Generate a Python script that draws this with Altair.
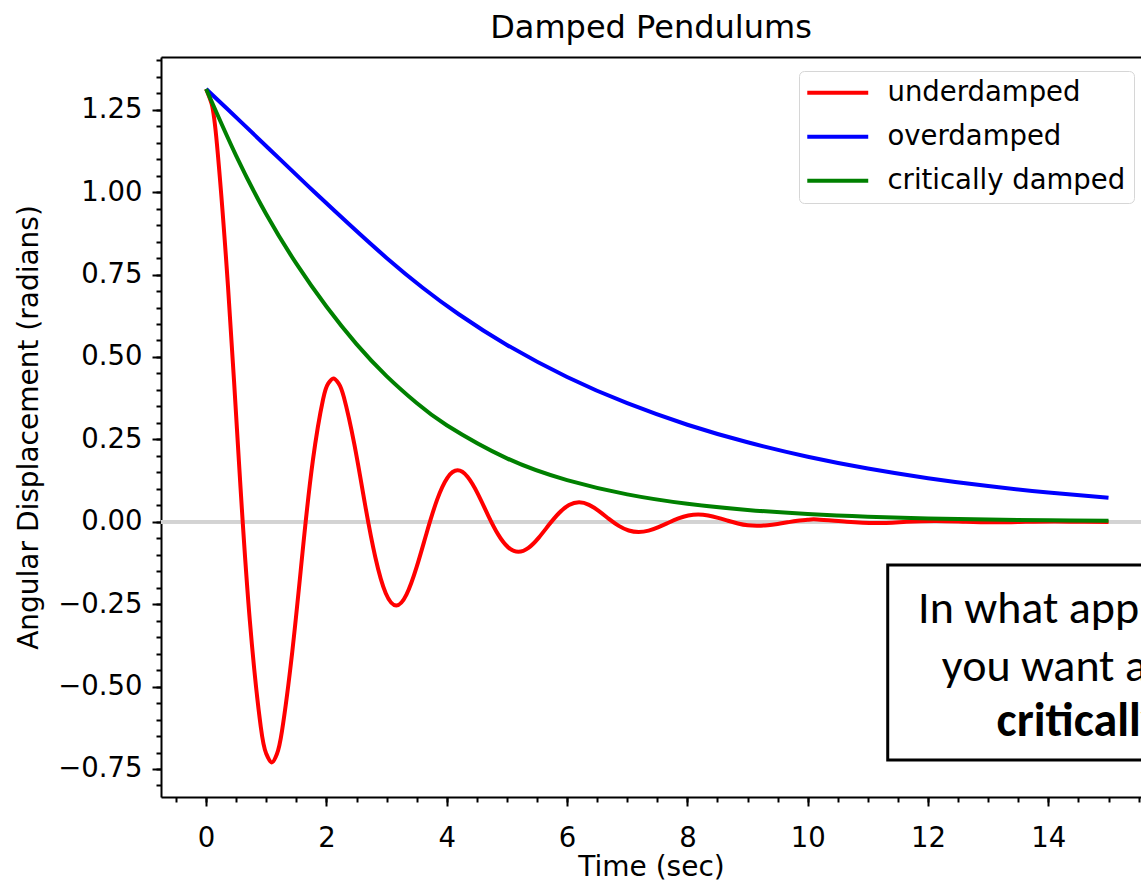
import altair as alt
import pandas as pd

# ---------------- data ----------------
series_names = ["underdamped", "overdamped", "critically damped"]
series_colors = ["#ff0000", "#0000ff", "#008000"]

t_under = [0.0, 0.0908, 0.1817, 0.3633, 0.545, 0.7267, 0.9083, 0.9992, 1.09,
           1.1754, 1.2608, 1.4317, 1.6025, 1.7733, 1.9442, 2.0296, 2.115,
           2.2021, 2.2892, 2.4633, 2.6375, 2.8117, 2.9858, 3.16,
           3.33, 3.50, 3.67, 3.84, 4.01, 4.18,
           4.3483, 4.5167, 4.685, 4.8533, 5.0217, 5.19,
           5.3583, 5.5267, 5.695, 5.8633, 6.0317, 6.20,
           6.365, 6.53, 6.695, 6.86, 7.025, 7.19,
           7.355, 7.52, 7.685, 7.85, 8.015, 8.18,
           8.345, 8.51, 8.675, 8.84, 9.005, 9.17,
           9.335, 9.50, 9.665, 9.83, 9.995, 10.16,
           10.65, 11.15, 11.64, 12.14, 12.63, 13.13, 13.62, 14.12, 14.6, 15.0]
th_under = [1.313, 1.268, 1.142, 0.715, 0.183, -0.300, -0.622, -0.7035, -0.730,
            -0.7052, -0.6351, -0.3948, -0.0929, 0.1847, 0.3716, 0.4193, 0.435,
            0.4202, 0.3785, 0.2357, 0.0569, -0.1069, -0.2168, -0.254,
            -0.2210, -0.1370, -0.0309, 0.0671, 0.1334, 0.156,
            0.1357, 0.0846, 0.0204, -0.0383, -0.0777, -0.091,
            -0.0792, -0.0488, -0.0101, 0.0259, 0.0505, 0.059,
            0.0513, 0.0323, 0.0088, -0.0124, -0.0264, -0.031,
            -0.0270, -0.0164, -0.0029, 0.0100, 0.0189, 0.022,
            0.0191, 0.0119, 0.0031, -0.0051, -0.0106, -0.012,
            -0.0104, -0.0065, -0.0017, 0.0029, 0.0059, 0.007,
            0.0, -0.004, 0.0, 0.0025, 0.0, -0.0015, 0.0, 0.001, 0.0, -0.0005]

t_over = [0.0, 0.3, 0.6, 1.2, 1.8, 2.4, 3.0, 3.6, 4.2, 5.0, 6.0, 7.0, 8.0, 9.0, 10.0,
          11.0, 12.0, 13.0, 14.0, 15.0]
th_over = [1.313, 1.2614, 1.2094, 1.1046, 1.0005, 0.8986, 0.8004, 0.7099, 0.6296, 0.5365,
           0.4393, 0.3596, 0.2944, 0.2411, 0.1974, 0.1616, 0.1323, 0.1083, 0.0887, 0.0726]

t_crit = [0.0, 0.5, 1.0, 1.5, 2.0, 2.5, 3.0, 3.5, 4.0, 5.0, 6.0, 7.0, 8.0, 9.0, 10.0,
          11.0, 12.0, 13.0, 14.0, 15.0]
th_crit = [1.313, 1.110, 0.933, 0.783, 0.653, 0.539, 0.442, 0.360, 0.293, 0.1925, 0.1265,
           0.0831, 0.0546, 0.0359, 0.0236, 0.0155, 0.0102, 0.0067, 0.0045, 0.0032]

x_major = [0, 2, 4, 6, 8, 10, 12, 14]
x_minor = [v / 2 for v in range(-1, 32)]
y_major = [-0.75, -0.5, -0.25, 0.0, 0.25, 0.5, 0.75, 1.0, 1.25]
y_minor = [round(-0.80 + 0.05 * i, 2) for i in range(45)]

box_lines = ["In what applications would", "you want a system to be", "critically damped?"]
box_x = [11.835, 12.23, 13.14]
box_y = [-0.307, -0.483, -0.650]
box_bold = [False, False, True]

# ---------------- build tables ----------------
df = pd.concat([
    pd.DataFrame({"t": t_under, "theta": th_under, "series": series_names[0]}),
    pd.DataFrame({"t": t_over, "theta": th_over, "series": series_names[1]}),
    pd.DataFrame({"t": t_crit, "theta": th_crit, "series": series_names[2]}),
], ignore_index=True)
df["order"] = range(len(df))

txt = pd.DataFrame({"label": box_lines, "x": box_x, "y": box_y, "bold": box_bold})
box = pd.DataFrame({"x": [11.33], "x2": [17.0], "y": [-0.131], "y2": [-0.723]})

FONT = "DejaVu Sans"
x_scale = alt.Scale(domain=[-0.75, 15.54], nice=False, zero=False)
y_scale = alt.Scale(domain=[-0.835, 1.41], nice=False, zero=False)

x_axis = alt.Axis(
    orient="bottom", values=x_major, format="d",
    tickSize=9, tickWidth=2, tickColor="black", domainColor="black", domainWidth=2,
    labelFont=FONT, labelFontSize=27.5, labelColor="black", labelPadding=18,
    labelBaseline="top", labelOverlap=False, labelFlush=False, grid=False,
    title="Time (sec)", titleFont=FONT, titleFontSize=28, titleFontWeight="normal",
    titleColor="black", titlePadding=2,
)
y_axis = alt.Axis(
    orient="left", values=y_major, format=".2f",
    tickSize=9, tickWidth=2, tickColor="black", domainColor="black", domainWidth=2,
    labelFont=FONT, labelFontSize=27.5, labelColor="black", labelPadding=10,
    labelOverlap=False, labelFlush=False, grid=False,
    title="Angular Displacement (radians)", titleFont=FONT, titleFontSize=28,
    titleFontWeight="normal", titleColor="black", titlePadding=14,
)
x_minor_axis = alt.Axis(orient="bottom", values=x_minor, tickSize=5, tickWidth=2,
                        tickColor="black", labels=False, domain=False, grid=False, title=None)
y_minor_axis = alt.Axis(orient="left", values=y_minor, tickSize=5, tickWidth=2,
                        tickColor="black", labels=False, domain=False, grid=False, title=None)
top_axis = alt.Axis(orient="top", labels=False, ticks=False, domainColor="black",
                    domainWidth=2, grid=False, title=None)

zero_line = alt.Chart(df).mark_rule(color="#d3d3d3", strokeWidth=3.5).encode(
    y=alt.datum(0, scale=y_scale, axis=None)
)

lines = alt.Chart(df).mark_line(strokeWidth=4, interpolate="natural", clip=True).encode(
    x=alt.X("t:Q", scale=x_scale, axis=x_axis),
    y=alt.Y("theta:Q", scale=y_scale, axis=y_axis),
    color=alt.Color(
        "series:N",
        scale=alt.Scale(domain=series_names, range=series_colors),
        legend=alt.Legend(
            title=None, orient="none", legendX=638, legendY=14,
            symbolType="M-2.65,0H2.65", symbolSize=529, symbolStrokeWidth=4,
            symbolOffset=17, labelOffset=36, rowPadding=15, padding=8,
            labelFont=FONT, labelFontSize=27.5, labelColor="black", labelLimit=500,
            strokeColor="#d6d6d6", fillColor="white", cornerRadius=5,
        ),
    ),
    order="order:Q",
)

rect = alt.Chart(box).mark_rect(fill="white", stroke="black", strokeWidth=3, clip=True).encode(
    x=alt.X("x:Q", scale=x_scale, axis=top_axis),
    x2="x2:Q",
    y=alt.Y("y:Q", scale=y_scale, axis=None),
    y2="y2:Q",
)

BOX_FONT = "Carlito, Calibri, Lato, sans-serif"
text_normal = alt.Chart(txt).transform_filter("!datum.bold").mark_text(
    align="left", baseline="alphabetic", font=BOX_FONT, fontSize=46, color="black", clip=True
).encode(
    x=alt.X("x:Q", scale=x_scale, axis=x_minor_axis),
    y=alt.Y("y:Q", scale=y_scale, axis=y_minor_axis),
    text="label:N",
)
text_bold = alt.Chart(txt).transform_filter("datum.bold").mark_text(
    align="left", baseline="alphabetic", font=BOX_FONT, fontSize=48, fontWeight="bold",
    color="black", clip=True
).encode(
    x=alt.X("x:Q", scale=x_scale, axis=None),
    y=alt.Y("y:Q", scale=y_scale, axis=None),
    text="label:N",
)

chart = alt.layer(zero_line, lines, rect, text_normal, text_bold).resolve_axis(
    x="independent", y="independent"
).properties(
    width=980, height=740,
    padding={"left": 161, "top": 57, "right": 0, "bottom": 85},
    autosize=alt.AutoSizeParams(type="none"),
    title=alt.TitleParams("Damped Pendulums", font=FONT, fontSize=32, fontWeight="normal",
                          color="black", anchor="middle", offset=12),
).configure_view(stroke=None).configure(background="white")

chart.save("out.html", embed_options={"renderer": "svg", "actions": False})
